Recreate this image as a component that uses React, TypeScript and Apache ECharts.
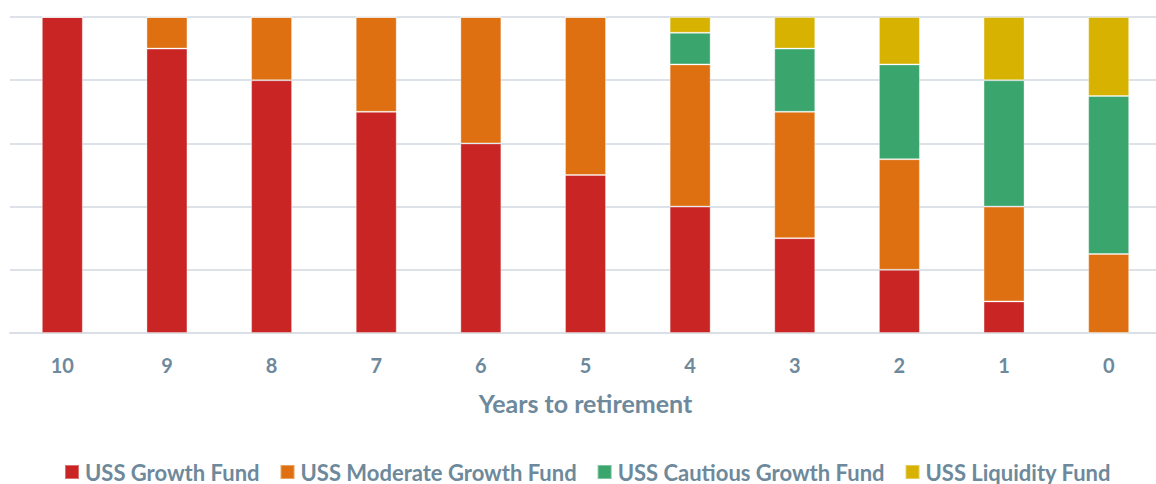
import React, { useEffect, useRef } from "react";
import * as echarts from "echarts";

const years = ["10", "9", "8", "7", "6", "5", "4", "3", "2", "1", "0"];
const growth = [100, 90, 80, 70, 60, 50, 40, 30, 20, 10, 0];
const moderate = [0, 10, 20, 30, 40, 50, 45, 40, 35, 30, 25];
const cautious = [0, 0, 0, 0, 0, 0, 10, 20, 30, 40, 50];
const liquidity = [0, 0, 0, 0, 0, 0, 5, 10, 15, 20, 25];

const seriesNames = [
  "USS Growth Fund",
  "USS Moderate Growth Fund",
  "USS Cautious Growth Fund",
  "USS Liquidity Fund",
];
const colors = ["#C82524", "#DE7011", "#3AA56D", "#D8B200"];
const FONT = "Lato";
const TEXT = "#6D899B";

export default function App() {
  const ref = useRef<HTMLDivElement>(null);
  useEffect(() => {
    const chart = echarts.init(ref.current!, null, { renderer: "svg" });
    const data = [growth, moderate, cautious, liquidity];
    chart.setOption({
      animation: false,
      color: colors,
      legend: {
        top: 456,
        left: 59,
        padding: 5,
        icon: "rect",
        itemWidth: 14,
        itemHeight: 14,
        itemGap: 20,
        textStyle: { color: TEXT, fontSize: 22, fontWeight: "bold", fontFamily: FONT, padding: [0, 0, 0, 1] },
        data: seriesNames,
      },
      grid: { left: 10, top: 17, width: 1151, height: 316, containLabel: false },
      xAxis: {
        type: "category",
        data: years,
        axisTick: { show: false },
        axisLine: { lineStyle: { color: "#D9DFE4", width: 2 } },
        axisLabel: { color: TEXT, fontSize: 20, fontWeight: "bold", fontFamily: FONT, margin: 22 },
        name: "Years to retirement",
        nameLocation: "middle",
        nameGap: 57,
        nameTextStyle: { color: TEXT, fontSize: 25, fontWeight: "bold", fontFamily: FONT },
      },
      yAxis: {
        type: "value",
        min: 0,
        max: 100,
        interval: 20,
        axisLabel: { show: false },
        axisLine: { show: false },
        axisTick: { show: false },
        splitLine: { lineStyle: { color: "#DCE2E7", width: 2 } },
      },
      series: seriesNames.map((name, i) => ({
        name,
        type: "bar",
        stack: "total",
        barWidth: 41,
        data: data[i],
        itemStyle: { borderColor: "rgba(255,255,255,0.35)", borderWidth: 1 },
      })),
    });
    return () => chart.dispose();
  }, []);
  return (
    <div style={{ position: "absolute", left: 0, top: 0, width: 1156, height: 484, overflow: "hidden" }}>
      <div ref={ref} style={{ width: 1170, height: 484 }} />
    </div>
  );
}
